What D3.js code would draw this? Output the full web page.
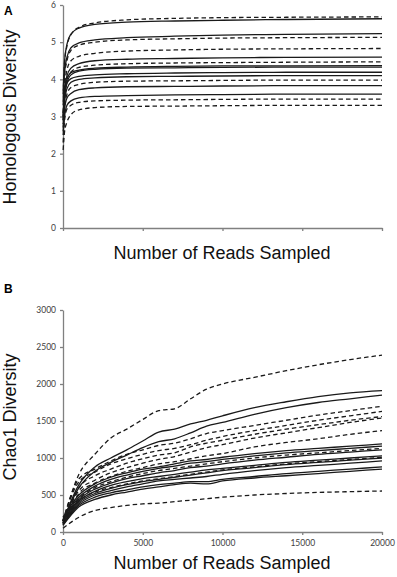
<!DOCTYPE html>
<html>
<head>
<meta charset="utf-8">
<script src="https://cdn.jsdelivr.net/npm/d3@7"></script>
<style>
  body { margin: 0; background: #fff; }
  svg { display: block; }
  .tick text { font-family: Lato, "Liberation Sans", sans-serif; font-size: 8.5px; fill: #404040; }
  .tick line, .domain { stroke: #808080; stroke-width: 1.3; }
  .title { font-family: "Liberation Sans", Arial, sans-serif; font-size: 18px; fill: #111; }
  .panel { font-family: "Liberation Sans", Arial, sans-serif; font-size: 12px; font-weight: bold; }
</style>
</head>
<body>
<div id="chart"></div>
<script>
// panel A: homologous diversity vs reads
const readsA = [10, 100, 250, 500, 1000, 2000, 4000, 7000, 10000, 14000, 20000];
const groupA = ["g2","g1","g1","g2","g2","g1","g2","g1","g1","g1","g1","g2","g1","g1","g2","g2"];
const diversityA = [
  [3.6, 4.45, 4.9, 5.2, 5.4, 5.52, 5.6, 5.64, 5.66, 5.67, 5.68],
  [3.7, 4.5, 4.95, 5.22, 5.38, 5.48, 5.54, 5.57, 5.59, 5.61, 5.63],
  [3.4, 4.2, 4.6, 4.85, 4.98, 5.06, 5.12, 5.16, 5.19, 5.21, 5.23],
  [3.3, 4.1, 4.5, 4.78, 4.92, 5.0, 5.06, 5.09, 5.11, 5.12, 5.13],
  [3.1, 3.8, 4.25, 4.5, 4.62, 4.7, 4.76, 4.79, 4.81, 4.82, 4.83],
  [3.0, 3.7, 4.1, 4.3, 4.42, 4.5, 4.54, 4.56, 4.58, 4.59, 4.60],
  [3.0, 3.6, 4.0, 4.2, 4.32, 4.38, 4.42, 4.44, 4.45, 4.46, 4.47],
  [3.1, 3.7, 4.0, 4.18, 4.25, 4.3, 4.33, 4.35, 4.36, 4.36, 4.37],
  [2.9, 3.5, 3.9, 4.12, 4.22, 4.27, 4.3, 4.31, 4.32, 4.33, 4.33],
  [2.9, 3.6, 3.9, 4.02, 4.08, 4.12, 4.15, 4.17, 4.18, 4.19, 4.19],
  [2.8, 3.4, 3.75, 3.92, 4.0, 4.04, 4.07, 4.08, 4.09, 4.1, 4.10],
  [2.7, 3.3, 3.6, 3.78, 3.86, 3.92, 3.95, 3.96, 3.97, 3.98, 3.98],
  [2.6, 3.2, 3.5, 3.62, 3.72, 3.77, 3.8, 3.81, 3.82, 3.83, 3.83],
  [2.5, 3.0, 3.3, 3.42, 3.5, 3.54, 3.56, 3.58, 3.59, 3.6, 3.60],
  [2.3, 2.9, 3.2, 3.3, 3.38, 3.42, 3.44, 3.45, 3.46, 3.47, 3.47],
  [2.1, 2.6, 2.85, 3.05, 3.18, 3.24, 3.27, 3.28, 3.29, 3.3, 3.30]
];
const ticksA = [0, 1, 2, 3, 4, 5, 6];

// panel B: chao1 diversity vs reads
const readsB = [0, 1000, 2000, 3000, 4000, 5000, 6000, 7000, 8000, 9000, 10000, 12000, 14000, 16000, 18000, 20000];
const groupB = ["g2","g1","g1","g2","g2","g2","g2","g2","g1","g1","g2","g1","g1","g2","g1","g1","g1","g1","g2"];
const chaoB = [
  [150, 780, 1050, 1270, 1390, 1520, 1640, 1665, 1800, 1930, 2000, 2090, 2180, 2260, 2330, 2390],
  [150, 640, 880, 1000, 1110, 1230, 1350, 1390, 1460, 1510, 1570, 1680, 1760, 1830, 1880, 1910],
  [150, 600, 820, 940, 1040, 1140, 1220, 1260, 1340, 1430, 1480, 1590, 1680, 1750, 1800, 1850],
  [150, 720, 850, 960, 1050, 1110, 1170, 1200, 1260, 1330, 1370, 1440, 1510, 1580, 1640, 1700],
  [150, 680, 810, 920, 990, 1050, 1100, 1130, 1180, 1240, 1290, 1370, 1440, 1510, 1570, 1630],
  [120, 600, 760, 850, 930, 990, 1040, 1070, 1150, 1200, 1240, 1320, 1390, 1450, 1510, 1560],
  [120, 560, 700, 800, 870, 930, 980, 1020, 1080, 1140, 1180, 1270, 1340, 1410, 1480, 1540],
  [100, 520, 660, 750, 820, 870, 920, 950, 990, 1030, 1060, 1150, 1210, 1260, 1320, 1370],
  [200, 500, 650, 740, 800, 850, 880, 920, 960, 980, 1010, 1060, 1100, 1130, 1160, 1190],
  [180, 470, 620, 710, 770, 820, 860, 890, 930, 950, 980, 1030, 1070, 1100, 1130, 1160],
  [150, 450, 600, 680, 740, 790, 830, 860, 890, 920, 950, 1000, 1040, 1070, 1100, 1130],
  [160, 440, 580, 660, 720, 760, 800, 830, 870, 890, 920, 970, 1010, 1050, 1080, 1110],
  [140, 420, 550, 630, 680, 720, 750, 780, 810, 840, 860, 900, 940, 970, 1000, 1030],
  [130, 420, 540, 600, 650, 690, 720, 750, 780, 810, 840, 880, 920, 950, 980, 1010],
  [120, 400, 520, 590, 640, 680, 710, 740, 770, 800, 830, 870, 910, 940, 970, 1000],
  [110, 380, 500, 560, 610, 650, 690, 710, 730, 750, 780, 830, 870, 900, 930, 960],
  [100, 360, 470, 530, 570, 610, 640, 660, 680, 680, 710, 750, 790, 820, 850, 880],
  [90, 340, 440, 500, 540, 580, 610, 640, 660, 650, 690, 730, 760, 790, 820, 850],
  [50, 200, 290, 330, 360, 380, 390, 410, 430, 450, 470, 500, 520, 535, 545, 554]
];
const ticksB = [0, 500, 1000, 1500, 2000, 2500, 3000];
const readTicks = [0, 5000, 10000, 15000, 20000];

const width = 397, height = 577;
const svg = d3.select("#chart").append("svg")
  .attr("width", width)
  .attr("height", height);

const dash = d3.scaleOrdinal(["g1", "g2"], [null, "4.5,3"]);

function panel(opts) {
  const x = d3.scaleLinear([0, 20000], [63, 382]);
  const y = d3.scaleLinear(opts.yDomain, [opts.bottom, opts.top]);

  const xAxis = d3.axisBottom(x).tickValues(readTicks).tickSize(3).tickSizeOuter(0)
    .tickFormat(opts.xLabels ? d3.format("d") : "");
  svg.append("g")
    .attr("transform", `translate(0,${opts.bottom})`)
    .call(xAxis)
    .call(g => g.selectAll(".tick text").attr("dy", "0.9em"));

  svg.append("g")
    .attr("transform", "translate(63,0)")
    .call(d3.axisLeft(y).tickValues(opts.yTicks).tickSize(3).tickSizeOuter(0)
      .tickPadding(4).tickFormat(d3.format("d")))

  const line = d3.line()
    .x((d, i) => x(opts.reads[i]))
    .y(d => y(d))
    .curve(d3.curveMonotoneX);

  svg.append("g")
    .selectAll("path")
    .data(opts.series)
    .join("path")
    .attr("d", line)
    .attr("fill", "none")
    .attr("stroke", "#1a1a1a")
    .attr("stroke-width", 1.3)
    .attr("stroke-dasharray", (d, i) => dash(opts.groups[i]));

  svg.append("text")
    .attr("class", "title")
    .attr("transform", `translate(16,${opts.yTitleY}) rotate(-90)`)
    .attr("text-anchor", "middle")
    .text(opts.yTitle);

  svg.append("text")
    .attr("class", "title")
    .attr("x", 222)
    .attr("y", opts.xTitleY)
    .attr("text-anchor", "middle")
    .text("Number of Reads Sampled");

  svg.append("text")
    .attr("class", "panel")
    .attr("x", 4)
    .attr("y", opts.labelY)
    .text(opts.label);
}

panel({
  reads: readsA, series: diversityA, groups: groupA,
  yDomain: [0, 6], yTicks: ticksA, top: 5, bottom: 228,
  xLabels: false, yTitle: "Homologous Diversity", yTitleY: 117,
  xTitleY: 259, label: "A", labelY: 15
});

panel({
  reads: readsB, series: chaoB, groups: groupB,
  yDomain: [0, 3000], yTicks: ticksB, top: 310, bottom: 532,
  xLabels: true, yTitle: "Chao1 Diversity", yTitleY: 417,
  xTitleY: 569, label: "B", labelY: 293
});
</script>
</body>
</html>
